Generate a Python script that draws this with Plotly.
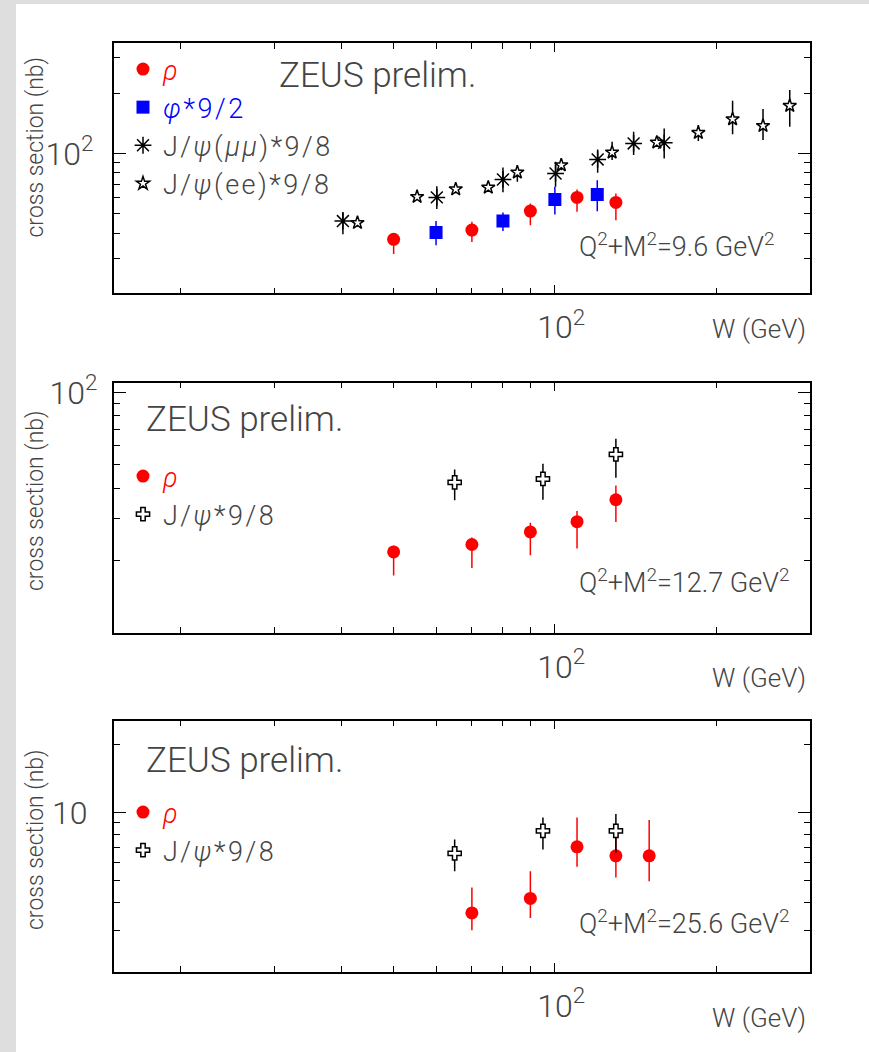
import math
import plotly.graph_objects as go

W_PX, H_PX = 869, 1052

# ---------------- data ----------------
# Panel 1: Q2+M2 = 9.6 GeV2
rho1_W = [50, 70, 90, 110, 130]
rho1_sig = [37.2, 41.4, 51.5, 60.3, 56.9]
rho1_up = [2.6, 4.1, 4.7, 5.8, 6.2]
rho1_dn = [5.8, 5.3, 7.7, 9.2, 10.5]

phi1_W = [60, 80, 100, 120]
phi1_sig = [40.3, 46.0, 58.9, 62.4]
phi1_up = [5.6, 4.7, 9.2, 11.1]
phi1_dn = [5.5, 5.0, 9.4, 11.0]

jmm1_W = [40.2, 60.2, 80.0, 100.3, 120.2, 140.3, 160.0]
jmm1_sig = [45.9, 60.3, 74.1, 79.4, 93.3, 112.2, 113.0]
jmm1_up = [5.1, 8.3, 11.0, 11.4, 11.4, 16.0, 20.3]
jmm1_dn = [6.4, 7.6, 10.1, 11.3, 13.3, 14.1, 18.6]

jee1_W = [42.8, 55.3, 65.3, 75.1, 85.1, 102.8, 127.9, 155.0, 185.3, 214.7, 244.7, 274.5]
jee1_sig = [45.0, 60.7, 66.3, 67.6, 80.4, 87.4, 101.2, 113.5, 126.8, 148.4, 137.4, 173.0]
jee1_up = [2.0, 2.0, 3.0, 3.0, 7.0, 7.0, 13.1, 4.0, 11.7, 34.7, 29.1, 34.2]
jee1_dn = [2.0, 2.0, 3.0, 3.0, 8.3, 5.0, 8.6, 4.0, 11.6, 23.9, 20.8, 37.1]

# Panel 2: Q2+M2 = 12.7 GeV2
rho2_W = [50, 70, 90, 110, 130]
rho2_sig = [21.7, 23.3, 26.3, 29.0, 35.8]
rho2_up = [1.4, 1.6, 2.4, 3.1, 5.2]
rho2_dn = [4.4, 4.7, 5.3, 6.6, 6.9]

jp2_W = [65, 95, 130]
jp2_sig = [42.3, 43.7, 55.3]
jp2_up = [5.5, 6.9, 9.0]
jp2_dn = [6.7, 7.9, 11.1]

# Panel 3: Q2+M2 = 25.6 GeV2
rho3_W = [70, 90, 110, 130, 150]
rho3_sig = [3.60, 4.17, 7.05, 6.43, 6.43]
rho3_up = [1.06, 1.33, 2.45, 1.98, 2.82]
rho3_dn = [0.58, 0.75, 1.30, 1.27, 1.46]

jp3_W = [65, 95, 130]
jp3_sig = [6.59, 8.29, 8.29]
jp3_up = [1.01, 1.21, 1.54]
jp3_dn = [1.09, 1.43, 1.66]

# axis ranges / ticks
x_range = [15, 300]
y_ranges = [[20, 355], [10, 110], [1.98, 25.4]]
x_major = [100]
x_ticktext = ["<sup>\u2007</sup>10<sup>2</sup>"]
x_minor = [20, 30, 40, 50, 60, 70, 80, 90, 200]
y_major = [[100], [100], [10]]
y_minor = [[30, 40, 50, 60, 70, 80, 90, 200, 300],
           [20, 30, 40, 50, 60, 70, 80, 90],
           [3, 4, 5, 6, 7, 8, 9, 20]]
y_ticktext = [["10<sup>2</sup>"], ["10<sup>2</sup>"], ["10"]]
q_labels = ["Q<sup>2</sup>+M<sup>2</sup>=9.6 GeV<sup>2</sup>",
            "Q<sup>2</sup>+M<sup>2</sup>=12.7 GeV<sup>2</sup>",
            "Q<sup>2</sup>+M<sup>2</sup>=25.6 GeV<sup>2</sup>"]

# ---------------- layout geometry (pixels) ----------------
FONT = "Roboto"
TXT = "#444444"
frame_x = (113.6, 810.4)
frames_y = [(43.3, 293.3), (382.7, 632.7), (720.7, 971.7)]


def px(x):
    return x / W_PX


def py(y):
    return 1 - y / H_PX


fig = go.Figure()


def err(up, dn, color):
    return dict(type="data", symmetric=False, array=up, arrayminus=dn,
                color=color, thickness=1.5, width=0)


def add(panel, legend, name, Wv, s, up, dn, color, symbol, size, fill, lw=0):
    xa = "x" if panel == 1 else f"x{panel}"
    ya = "y" if panel == 1 else f"y{panel}"
    fig.add_trace(go.Scatter(
        x=Wv, y=s, mode="markers", name=name, xaxis=xa, yaxis=ya,
        legend=legend,
        error_y=err(up, dn, color),
        marker=dict(symbol=symbol, size=size, color=fill,
                    line=dict(color=color, width=lw)),
    ))


def wide(text, color=None):
    style = "letter-spacing:2.5px"
    if color:
        style += ";color:" + color
    return f"<span style='{style}'>{text}</span>"


RHO = wide("<i>ρ</i>", "red")
PHI = wide("<i>φ</i>*9/2", "blue")
JMM = wide("J/<i>ψ</i>(<i>μμ</i>)*9/8")
JEE = wide("J/<i>ψ</i>(ee)*9/8")
JPS = wide("J/<i>ψ</i>*9/8")

# panel 1
add(1, "legend", RHO, rho1_W, rho1_sig, rho1_up, rho1_dn, "red", "circle", 13, "red")
add(1, "legend", PHI, phi1_W, phi1_sig, phi1_up, phi1_dn, "blue", "square", 13, "blue")
add(1, "legend", JMM, jmm1_W, jmm1_sig, jmm1_up, jmm1_dn,
    "black", "asterisk-open", 14, "black", 1.5)
add(1, "legend", JEE, jee1_W, jee1_sig, jee1_up, jee1_dn,
    "black", "star", 10, "white", 1.5)
# panel 2
add(2, "legend2", RHO, rho2_W, rho2_sig, rho2_up, rho2_dn, "red", "circle", 13, "red")
add(2, "legend2", JPS, jp2_W, jp2_sig, jp2_up, jp2_dn, "black", "cross", 11, "white", 1.5)
# panel 3
add(3, "legend3", RHO, rho3_W, rho3_sig, rho3_up, rho3_dn, "red", "circle", 13, "red")
add(3, "legend3", JPS, jp3_W, jp3_sig, jp3_up, jp3_dn, "black", "cross", 11, "white", 1.5)

layout = dict(
    width=W_PX, height=H_PX,
    margin=dict(l=0, r=0, t=0, b=0, pad=0, autoexpand=False),
    paper_bgcolor="white", plot_bgcolor="white",
    font=dict(family=FONT, color=TXT, weight=300),
    showlegend=True,
)

ystand = [12, 8, 18]
for i in range(3):
    k = "" if i == 0 else str(i + 1)
    y0, y1 = frames_y[i]
    layout["xaxis" + k] = dict(
        type="log", range=[math.log10(x_range[0]), math.log10(x_range[1])],
        domain=[px(frame_x[0]), px(frame_x[1])], anchor="y" + k,
        automargin=False,
        showline=True, linecolor="black", linewidth=1.5, mirror="allticks",
        ticks="inside", ticklen=9, tickwidth=1.2, tickcolor="black",
        tickmode="array", tickvals=x_major, ticktext=x_ticktext,
        tickfont=dict(size=32, family=FONT, color=TXT, weight=300),
        ticklabelstandoff=5,
        showgrid=False, zeroline=False,
        minor=dict(ticks="inside", ticklen=6, tickwidth=1.2, tickcolor="black",
                   tickmode="array", tickvals=x_minor, showgrid=False),
    )
    layout["yaxis" + k] = dict(
        type="log",
        range=[math.log10(y_ranges[i][0]), math.log10(y_ranges[i][1])],
        domain=[py(y1), py(y0)], anchor="x" + k,
        automargin=False,
        showline=True, linecolor="black", linewidth=1.5, mirror="allticks",
        ticks="inside", ticklen=13, tickwidth=1.2, tickcolor="black",
        tickmode="array", tickvals=y_major[i], ticktext=y_ticktext[i],
        tickfont=dict(size=32, family=FONT, color=TXT, weight=300),
        ticklabelstandoff=ystand[i],
        showgrid=False, zeroline=False,
        minor=dict(ticks="inside", ticklen=7, tickwidth=1.2, tickcolor="black",
                   tickmode="array", tickvals=y_minor[i], showgrid=False),
    )

leg_common = dict(xanchor="left", yanchor="top", bgcolor="rgba(0,0,0,0)",
                  borderwidth=0, itemsizing="trace",
                  font=dict(size=27, family=FONT, color=TXT, weight=300))
layout["legend"] = dict(x=px(123), y=py(45), **leg_common)
layout["legend2"] = dict(x=px(123), y=py(452), **leg_common)
layout["legend3"] = dict(x=px(123), y=py(788), **leg_common)

ann = []
zeus_y = [75, 419, 760]
q_y = [245, 581, 922]
wt_y = [329, 678, 1018]
yt_y = [147.5, 501, 840]
for i in range(3):
    ann.append(dict(text="ZEUS prelim.", x=px(277 if i == 0 else 144), y=py(zeus_y[i]),
                    xref="paper", yref="paper", xanchor="left", yanchor="middle",
                    showarrow=False, font=dict(size=35, family=FONT, color=TXT, weight=300)))
    ann.append(dict(text=q_labels[i], x=px(577), y=py(q_y[i]),
                    xref="paper", yref="paper", xanchor="left", yanchor="middle",
                    showarrow=False, font=dict(size=27, family=FONT, color=TXT, weight=300)))
    ann.append(dict(text="W (GeV)", x=px(808), y=py(wt_y[i]),
                    xref="paper", yref="paper", xanchor="right", yanchor="middle",
                    showarrow=False, font=dict(size=26, family=FONT, color=TXT, weight=300)))
    ann.append(dict(text="cross section (nb)", x=px(35), y=py(yt_y[i]), textangle=-90,
                    xref="paper", yref="paper", xanchor="center", yanchor="middle",
                    showarrow=False, font=dict(size=23, family=FONT, color=TXT, weight=300)))
layout["annotations"] = ann

layout["shapes"] = [
    dict(type="rect", xref="paper", yref="paper", x0=0, x1=px(16), y0=0, y1=1,
         fillcolor="#dedede", line=dict(width=0), layer="below"),
    dict(type="rect", xref="paper", yref="paper", x0=0, x1=1, y0=py(4), y1=1,
         fillcolor="#dedede", line=dict(width=0), layer="below"),
]

fig.update_layout(**layout)
fig.write_html("out.html")
